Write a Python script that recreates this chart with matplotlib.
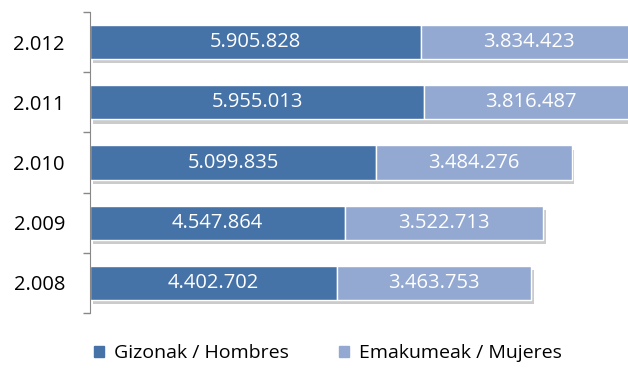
import matplotlib.pyplot as plt
import matplotlib.patheffects as pe
from matplotlib.patches import Patch

years = ["2.008", "2.009", "2.010", "2.011", "2.012"]
hombres = [4402702, 4547864, 5099835, 5955013, 5905828]
mujeres = [3463753, 3522713, 3484276, 3816487, 3834423]
labels = ["Gizonak / Hombres", "Emakumeak / Mujeres"]

c_dark = "#4572A7"
c_light = "#93A9D1"

plt.rcParams['font.family'] = ['Open Sans', 'DejaVu Sans']

def fmt(v):
    return f"{v:,}".replace(",", ".")

fig = plt.figure(figsize=(6.28, 3.69), dpi=100)
ax = fig.add_axes([90 / 628, 56 / 369, 561 / 628, 301 / 369])

shadow = [pe.SimplePatchShadow(offset=(2, -3), shadow_rgbFace="#999999", alpha=0.5), pe.Normal()]
y = list(range(len(years)))
b1 = ax.barh(y, hombres, height=0.57, color=c_dark, edgecolor="white", linewidth=1)
b2 = ax.barh(y, mujeres, left=hombres, height=0.57, color=c_light, edgecolor="white", linewidth=1)
for b in list(b1) + list(b2):
    b.set_path_effects(shadow)

for i in y:
    ax.text(hombres[i] / 2, i, fmt(hombres[i]), ha="center", va="center",
            color="white", fontsize=14.5)
    ax.text(hombres[i] + mujeres[i] / 2, i, fmt(mujeres[i]), ha="center", va="center",
            color="white", fontsize=14.5)

ax.set_xlim(0, 10e6)
ax.set_ylim(-0.5, 4.5)
ax.set_yticks(y)
ax.set_yticklabels(years, fontsize=14.5)
ax.tick_params(axis="y", which="major", length=0, pad=18)
ax.set_yticks([i - 0.5 for i in range(len(years) + 1)], minor=True)
ax.tick_params(axis="y", which="minor", length=5, color="#888888", width=1)
ax.set_xticks([])
for s in ["top", "right", "bottom"]:
    ax.spines[s].set_visible(False)
ax.spines["left"].set_color("#888888")

handles = [Patch(color=c_dark), Patch(color=c_light)]
fig.legend(handles, labels, loc="center", bbox_to_anchor=(0.522, 0.043), ncol=2,
           frameon=False, fontsize=14, handlelength=0.5, handleheight=0.5,
           handletextpad=0.5, columnspacing=2.6)

fig.savefig("out.png", dpi=100)
